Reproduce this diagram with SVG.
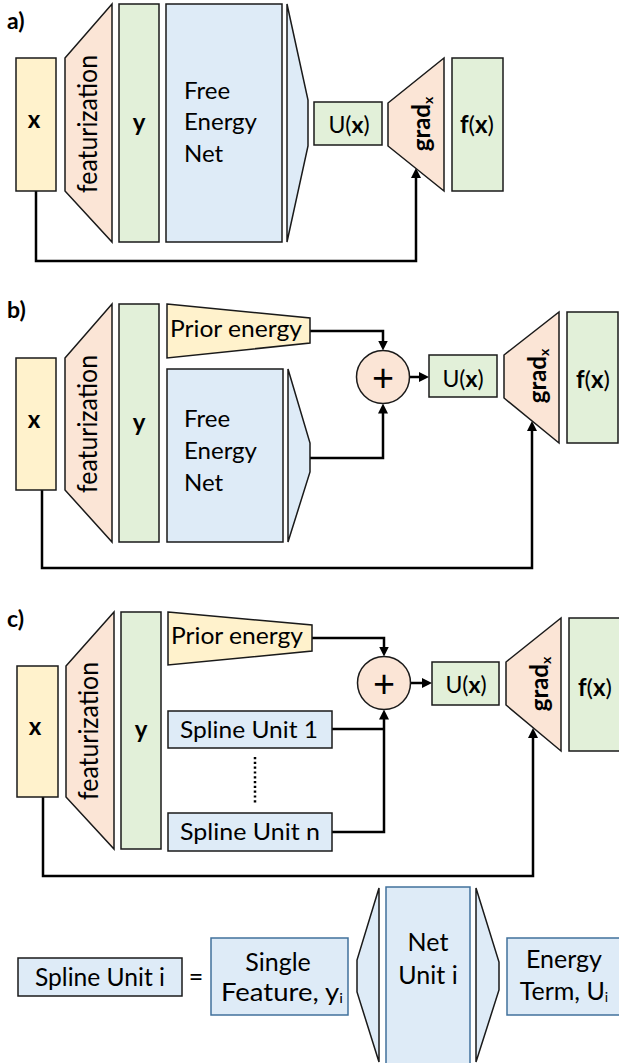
<svg xmlns="http://www.w3.org/2000/svg" width="619" height="1063" viewBox="0 0 619 1063">
<defs>
<style>
.t{font-family:Lato,"Open Sans","Liberation Sans",sans-serif;fill:#000}
.b{font-weight:bold}
.yel{fill:#FFF2CC;stroke:#1a1a1a;stroke-width:1.5}
.org{fill:#FBE5D6;stroke:#1a1a1a;stroke-width:1.5}
.grn{fill:#E2F0D9;stroke:#1a1a1a;stroke-width:1.5}
.blu{fill:#DEEBF7;stroke:#1a1a1a;stroke-width:1.5}
.blb{fill:#DEEBF7;stroke:#41719C;stroke-width:1.5}
.con{fill:none;stroke:#000;stroke-width:2.5}
</style>
<marker id="ah" viewBox="0 0 10 10" refX="2" refY="5" markerWidth="10" markerHeight="10" markerUnits="userSpaceOnUse" orient="auto">
<path d="M0,0 L10,5 L0,10 z" fill="#000"/>
</marker>
</defs>

<!-- Panel labels -->
<text class="t b" x="7" y="29" font-size="23">a)</text>
<text class="t b" x="7" y="318" font-size="23">b)</text>
<text class="t b" x="7" y="627" font-size="23">c)</text>

<!-- Connectors -->
<g id="connectors">
<polyline class="con" points="36,191 36,261 416,261 416,176" marker-end="url(#ah)"/>
<polyline class="con" points="42,490 42,568 532,568 532,429" marker-end="url(#ah)"/>
<polyline class="con" points="310,331 383,331 383,342.5" marker-end="url(#ah)"/>
<polyline class="con" points="310,458 383,458 383,411.5" marker-end="url(#ah)"/>
<polyline class="con" points="409.5,377 421,377" marker-end="url(#ah)"/>
<polyline class="con" points="43,797 43,876 533,876 533,736" marker-end="url(#ah)"/>
<polyline class="con" points="312,638 384,638 384,648.5" marker-end="url(#ah)"/>
<polyline class="con" points="332,729 384,729"/>
<polyline class="con" points="332,832 384,832 384,717.5" marker-end="url(#ah)"/>
<polyline class="con" points="410.5,683 424,683" marker-end="url(#ah)"/>
<line x1="255" y1="757" x2="255" y2="803" stroke="#000" stroke-width="2.5" stroke-dasharray="2.2 2.6"/>
</g>

<!-- Panel a -->
<g id="a-x"><rect class="yel" x="16" y="58" width="40" height="133"/><text class="t b" x="34" y="128" font-size="24" text-anchor="middle">x</text></g>
<g id="a-feat"><polygon class="org" points="65,58 112,4 112,242 65,191"/><text class="t" transform="translate(97,124) rotate(-90)" font-size="26" text-anchor="middle" textLength="138" lengthAdjust="spacingAndGlyphs">featurization</text></g>
<g id="a-y"><rect class="grn" x="119" y="4" width="40" height="238"/><text class="t b" x="139" y="131" font-size="24" text-anchor="middle">y</text></g>
<g id="a-fen"><rect class="blu" x="166" y="4" width="116" height="238"/>
<text class="t" x="184" y="99" font-size="24">Free</text><text class="t" x="184" y="130" font-size="24" textLength="73" lengthAdjust="spacingAndGlyphs">Energy</text><text class="t" x="184" y="162" font-size="24">Net</text></g>
<g id="a-out"><polygon class="blu" points="287,4 308,100 308,146 287,242"/></g>
<g id="a-u"><rect class="grn" x="314" y="102" width="68" height="43"/><text class="t" x="349" y="133" font-size="23" text-anchor="middle">U(<tspan class="b">x</tspan>)</text></g>
<g id="a-grad"><polygon class="org" points="388,103 444,58 444,191 388,146"/><text class="t b" transform="translate(430,124) rotate(-90)" font-size="24" text-anchor="middle">grad<tspan font-size="14" dy="3">x</tspan></text></g>
<g id="a-f"><rect class="grn" x="452" y="58" width="51" height="133"/><text class="t" x="477" y="133" font-size="24" text-anchor="middle"><tspan class="b">f</tspan>(<tspan class="b">x</tspan>)</text></g>

<!-- Panel b -->
<g id="b-x"><rect class="yel" x="16" y="358" width="40" height="132"/><text class="t b" x="34" y="428" font-size="24" text-anchor="middle">x</text></g>
<g id="b-feat"><polygon class="org" points="65,358 112,304 112,542 65,490"/><text class="t" transform="translate(97,424) rotate(-90)" font-size="26" text-anchor="middle" textLength="138" lengthAdjust="spacingAndGlyphs">featurization</text></g>
<g id="b-y"><rect class="grn" x="119" y="304" width="40" height="238"/><text class="t b" x="139" y="431" font-size="24" text-anchor="middle">y</text></g>
<g id="b-prior"><polygon class="yel" points="167,304 310,318 310,343 167,358"/><text class="t" x="170" y="337" font-size="23" textLength="132" lengthAdjust="spacingAndGlyphs">Prior energy</text></g>
<g id="b-fen"><rect class="blu" x="167" y="369" width="116" height="173"/>
<text class="t" x="184" y="427" font-size="24">Free</text><text class="t" x="184" y="459" font-size="24" textLength="73" lengthAdjust="spacingAndGlyphs">Energy</text><text class="t" x="184" y="491" font-size="24">Net</text></g>
<g id="b-out"><polygon class="blu" points="288,369 310,443 310,472 288,542"/></g>
<g id="b-plus"><circle class="org" cx="383" cy="377" r="26.5"/><text class="t" x="383" y="391" font-size="38" text-anchor="middle">+</text></g>
<g id="b-u"><rect class="grn" x="429" y="355" width="68" height="42"/><text class="t" x="463" y="387" font-size="23" text-anchor="middle">U(<tspan class="b">x</tspan>)</text></g>
<g id="b-grad"><polygon class="org" points="504,355 559,312 559,443 504,398"/><text class="t b" transform="translate(546,376) rotate(-90)" font-size="24" text-anchor="middle">grad<tspan font-size="14" dy="3">x</tspan></text></g>
<g id="b-f"><rect class="grn" x="567" y="312" width="51" height="131"/><text class="t" x="593" y="388" font-size="24" text-anchor="middle"><tspan class="b">f</tspan>(<tspan class="b">x</tspan>)</text></g>

<!-- Panel c -->
<g id="c-x"><rect class="yel" x="17" y="666" width="41" height="131"/><text class="t b" x="35" y="735" font-size="24" text-anchor="middle">x</text></g>
<g id="c-feat"><polygon class="org" points="66,666 114,612 114,849 66,797"/><text class="t" transform="translate(98,731) rotate(-90)" font-size="26" text-anchor="middle" textLength="138" lengthAdjust="spacingAndGlyphs">featurization</text></g>
<g id="c-y"><rect class="grn" x="121" y="612" width="40" height="237"/><text class="t b" x="141" y="738" font-size="24" text-anchor="middle">y</text></g>
<g id="c-prior"><polygon class="yel" points="168,612 312,625 312,651 168,665"/><text class="t" x="171" y="644" font-size="23" textLength="132" lengthAdjust="spacingAndGlyphs">Prior energy</text></g>
<g id="c-s1"><rect class="blu" x="168" y="711" width="164" height="37"/><text class="t" x="180" y="738" font-size="24" textLength="138" lengthAdjust="spacingAndGlyphs">Spline Unit 1</text></g>
<g id="c-sn"><rect class="blu" x="168" y="813" width="164" height="38"/><text class="t" x="180" y="840" font-size="24" textLength="140" lengthAdjust="spacingAndGlyphs">Spline Unit n</text></g>
<g id="c-plus"><circle class="org" cx="384" cy="683" r="26.5"/><text class="t" x="384" y="697" font-size="38" text-anchor="middle">+</text></g>
<g id="c-u"><rect class="grn" x="432" y="662" width="67" height="43"/><text class="t" x="466" y="693" font-size="23" text-anchor="middle">U(<tspan class="b">x</tspan>)</text></g>
<g id="c-grad"><polygon class="org" points="506,662 561,618 561,751 506,705"/><text class="t b" transform="translate(548,684) rotate(-90)" font-size="24" text-anchor="middle">grad<tspan font-size="14" dy="3">x</tspan></text></g>
<g id="c-f"><rect class="grn" x="569" y="618" width="55" height="133"/><text class="t" x="595" y="696" font-size="24" text-anchor="middle"><tspan class="b">f</tspan>(<tspan class="b">x</tspan>)</text></g>

<!-- Bottom legend -->
<g id="d-spline"><rect class="blu" x="18" y="958" width="164" height="38"/><text class="t" x="100" y="986" font-size="25" text-anchor="middle" textLength="130" lengthAdjust="spacingAndGlyphs">Spline Unit i</text></g>
<text class="t" x="196" y="986" font-size="25" text-anchor="middle">=</text>
<g id="d-feature"><rect class="blb" x="211" y="938" width="137" height="77"/>
<text class="t" x="278" y="971" font-size="25" text-anchor="middle">Single</text>
<text class="t" x="282" y="1001" font-size="25" text-anchor="middle" textLength="122" lengthAdjust="spacingAndGlyphs">Feature, y<tspan font-size="14" dy="2">i</tspan></text></g>
<g id="d-in"><polygon class="blu" points="379,888 357,960 357,992 379,1062"/></g>
<g id="d-net"><rect class="blb" x="386" y="887" width="84" height="190"/>
<text class="t" x="428" y="951" font-size="25" text-anchor="middle">Net</text>
<text class="t" x="428" y="984" font-size="25" text-anchor="middle">Unit i</text></g>
<g id="d-out"><polygon class="blu" points="476,888 499,962 499,990 476,1062"/></g>
<g id="d-energy"><rect class="blb" x="507" y="938" width="125" height="77"/>
<text class="t" x="564" y="968" font-size="25" text-anchor="middle">Energy</text>
<text class="t" x="564" y="1000" font-size="25" text-anchor="middle">Term, U<tspan font-size="14" dy="2">i</tspan></text></g>
</svg>
